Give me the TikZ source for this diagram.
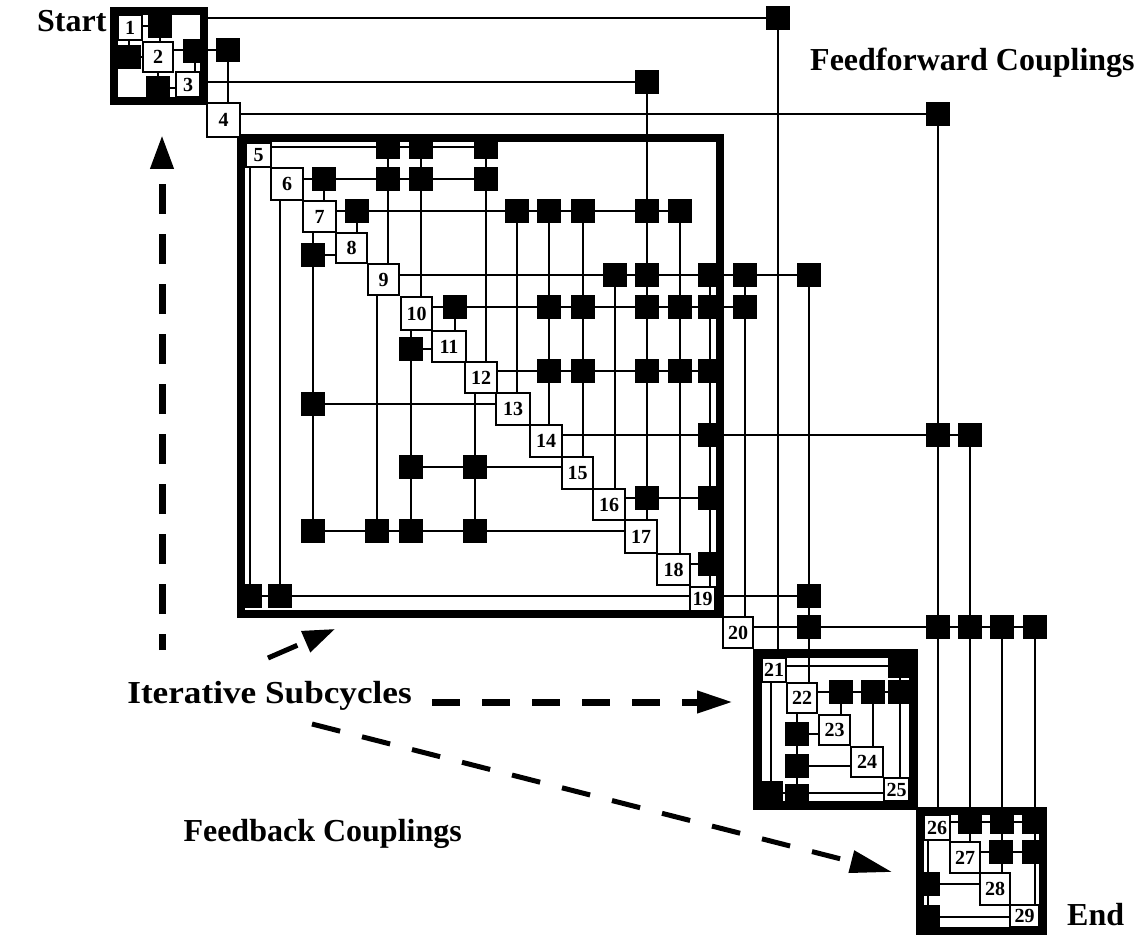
\documentclass[tikz,border=0pt]{standalone}
\usepackage{fontspec}
\setmainfont{Liberation Serif}
\usetikzlibrary{arrows.meta,backgrounds}
\newcommand\MyBox[6]{%
 \pgfmathsetmacro\myW{#4-#2}\pgfmathsetmacro\myH{#5-#3}%
 \pgfmathsetmacro\myX{(#2+#4)/2}\pgfmathsetmacro\myY{(#3+#5)/2}%
 \node[dbox, minimum width=\myW pt, minimum height=\myH pt] (b#1) at (\myX,\myY) {#6};}
\newcommand\MySq[3]{\node[sq] (s#1) at (#2,#3) {};}
\begin{document}
\begin{tikzpicture}[x=1pt,y=-1pt,
  dbox/.style={draw=black, fill=white, line width=2pt, inner sep=0pt, font=\fontsize{20}{20}\selectfont\bfseries},
  sq/.style={fill=black, inner sep=0pt, minimum size=24pt},
  ln/.style={line width=2pt},
  frm/.style={draw=black, line width=#1, inner sep=0pt},
  lbl/.style={font=\fontsize{32}{36}\selectfont\bfseries, inner sep=0pt},
  darr/.style={line width=7pt, dash pattern=on 30pt off 20pt, dash phase=14pt, -{Triangle[length=34pt,width=22pt]}},
  harr/.style={line width=7pt, dash pattern=on 28pt off 22pt, -{Triangle[length=36pt,width=21pt]}},
  garr/.style={line width=5pt, dash pattern=on 29pt off 22.6pt, -{Triangle[length=42pt,width=22pt]}},
  sarr/.style={line width=5pt, dash pattern=on 32pt off 20pt, -{Triangle[length=32pt,width=22pt]}}
]
\useasboundingbox (0,0) rectangle (1148,936);

% frames (subcycles)
\node[frm=8pt, minimum width=90pt, minimum height=90pt] (F1) at (159,56) {};
\node[frm=8pt, minimum width=479pt, minimum height=476pt] (F2) at (480.5,376) {};
\node[frm=9pt, minimum width=156pt, minimum height=152pt] (F3) at (835.5,729.5) {};
\node[frm=8pt, minimum width=123pt, minimum height=120pt] (F4) at (981.5,871) {};

% diagonal boxes
\MyBox{1}{118}{15}{142}{40}{1}
\MyBox{2}{143}{42}{173}{72}{2}
\MyBox{3}{176}{72}{200}{97}{3}
\MyBox{4}{207}{103}{240}{137}{4}
\MyBox{5}{246}{143}{271}{167}{5}
\MyBox{6}{271}{168}{303}{200}{6}
\MyBox{7}{303}{201}{336}{232}{7}
\MyBox{8}{336}{233}{367}{263}{8}
\MyBox{9}{368}{264}{399}{295}{9}
\MyBox{10}{401}{297}{432}{330}{10}
\MyBox{11}{432}{331}{466}{362}{11}
\MyBox{12}{465}{362}{497}{393}{12}
\MyBox{13}{496}{393}{530}{425}{13}
\MyBox{14}{530}{425}{562}{457}{14}
\MyBox{15}{562}{457}{593}{489}{15}
\MyBox{16}{593}{489}{625}{520}{16}
\MyBox{17}{625}{520}{657}{553}{17}
\MyBox{18}{657}{554}{690}{585}{18}
\MyBox{19}{690}{587}{715}{611}{19}
\MyBox{20}{723}{617}{753}{648}{20}
\MyBox{21}{762}{658}{786}{682}{21}
\MyBox{22}{787}{683}{817}{713}{22}
\MyBox{23}{819}{715}{850}{745}{23}
\MyBox{24}{851}{747}{883}{777}{24}
\MyBox{25}{884}{778}{909}{801}{25}
\MyBox{26}{924}{815}{950}{840}{26}
\MyBox{27}{950}{842}{980}{873}{27}
\MyBox{28}{980}{873}{1010}{905}{28}
\MyBox{29}{1010}{905}{1039}{927}{29}

% coupling marks
\MySq{1x2}{160}{26}
\MySq{2x1}{129}{57}
\MySq{2x3}{195}{51}
\MySq{3x2}{158}{88}
\MySq{2x4}{228}{50}
\MySq{1x21}{778}{18}
\MySq{3x17}{647}{82}
\MySq{4x26}{938}{114}
\MySq{5x9}{388}{147}
\MySq{5x10}{421}{147}
\MySq{5x12}{486}{147}
\MySq{6x7}{324}{179}
\MySq{6x9}{388}{179}
\MySq{6x10}{421}{179}
\MySq{6x12}{486}{179}
\MySq{7x8}{357}{211}
\MySq{7x13}{517}{211}
\MySq{7x14}{549}{211}
\MySq{7x15}{583}{211}
\MySq{7x17}{647}{211}
\MySq{7x18}{680}{211}
\MySq{8x7}{313}{255}
\MySq{9x16}{615}{275}
\MySq{9x17}{647}{275}
\MySq{9x19}{710}{275}
\MySq{9x20}{745}{275}
\MySq{9x22}{809}{275}
\MySq{10x11}{455}{307}
\MySq{10x14}{549}{307}
\MySq{10x15}{583}{307}
\MySq{10x17}{647}{307}
\MySq{10x18}{680}{307}
\MySq{10x19}{710}{307}
\MySq{10x20}{745}{307}
\MySq{11x10}{411}{349}
\MySq{12x14}{549}{371}
\MySq{12x15}{583}{371}
\MySq{12x17}{647}{371}
\MySq{12x18}{680}{371}
\MySq{12x19}{710}{371}
\MySq{13x7}{313}{404}
\MySq{14x19}{710}{435}
\MySq{14x26}{938}{435}
\MySq{14x27}{970}{435}
\MySq{15x10}{411}{467}
\MySq{15x12}{475}{467}
\MySq{16x17}{647}{498}
\MySq{16x19}{710}{498}
\MySq{17x7}{313}{531}
\MySq{17x9}{377}{531}
\MySq{17x10}{411}{531}
\MySq{17x12}{475}{531}
\MySq{18x19}{710}{564}
\MySq{19x5}{250}{596}
\MySq{19x6}{280}{596}
\MySq{19x22}{809}{596}
\MySq{20x22}{809}{627}
\MySq{20x26}{938}{627}
\MySq{20x27}{970}{627}
\MySq{20x28}{1002}{627}
\MySq{20x29}{1035}{627}
\MySq{21x25}{900}{666}
\MySq{22x23}{841}{692}
\MySq{22x24}{873}{692}
\MySq{22x25}{900}{692}
\MySq{23x22}{797}{734}
\MySq{24x22}{797}{766}
\MySq{25x22}{797}{796}
\MySq{25x21}{771}{793}
\MySq{26x27}{970}{822}
\MySq{26x28}{1002}{822}
\MySq{26x29}{1034}{822}
\MySq{27x28}{1001}{852}
\MySq{27x29}{1034}{852}
\MySq{28x26}{928}{884}
\MySq{29x26}{928}{917}

\begin{scope}[on background layer]
\fill[white] (0,0) rectangle (1148,936);
% row lines, to the right
\draw[ln] (b1.east |- s1x2) -- (s1x2);
\draw[ln] (F1.east |- s1x21) -- (s1x21);
\draw[ln] (b2.east |- s2x4) -- (s2x4);
\draw[ln] (F1.east |- s3x17) -- (s3x17);
\draw[ln] (b4.east |- s4x26) -- (s4x26);
\draw[ln] (b5.east |- s5x12) -- (s5x12);
\draw[ln] (b6.east |- s6x12) -- (s6x12);
\draw[ln] (b7.east |- s7x18) -- (s7x18);
\draw[ln] (b9.east |- s9x22) -- (s9x22);
\draw[ln] (b10.east |- s10x20) -- (s10x20);
\draw[ln] (b12.east |- s12x19) -- (s12x19);
\draw[ln] (b14.east |- s14x27) -- (s14x27);
\draw[ln] (b16.east |- s16x19) -- (s16x19);
\draw[ln] (b18.east |- s18x19) -- (s18x19);
\draw[ln] (b19.east |- s19x22) -- (s19x22);
\draw[ln] (b20.east |- s20x29) -- (s20x29);
\draw[ln] (b21.east |- s21x25) -- (s21x25);
\draw[ln] (b22.east |- s22x25) -- (s22x25);
\draw[ln] (b26.east |- s26x29) -- (s26x29);
\draw[ln] (b27.east |- s27x29) -- (s27x29);
% row lines, to the left
\draw[ln] (s2x1) -- (s2x1 -| b2.west);
\draw[ln] (s3x2) -- (s3x2 -| b3.west);
\draw[ln] (s8x7) -- (s8x7 -| b8.west);
\draw[ln] (s11x10) -- (s11x10 -| b11.west);
\draw[ln] (s13x7) -- (s13x7 -| b13.west);
\draw[ln] (s15x10) -- (s15x10 -| b15.west);
\draw[ln] (s17x7) -- (s17x7 -| b17.west);
\draw[ln] (s19x5) -- (s19x5 -| b19.west);
\draw[ln] (s23x22) -- (s23x22 -| b23.west);
\draw[ln] (s24x22) -- (s24x22 -| b24.west);
\draw[ln] (s25x21) -- (s25x21 -| b25.west);
\draw[ln] (s28x26) -- (s28x26 -| b28.west);
\draw[ln] (s29x26) -- (s29x26 -| b29.west);
% column lines, down to the element (feedforward)
\draw[ln] (s1x2) -- (s1x2 |- b2.north);
\draw[ln] (s2x3) -- (s2x3 |- b3.north);
\draw[ln] (s2x4) -- (s2x4 |- b4.north);
\draw[ln] (s6x7) -- (s6x7 |- b7.north);
\draw[ln] (s7x8) -- (s7x8 |- b8.north);
\draw[ln] (s5x9) -- (s5x9 |- b9.north);
\draw[ln] (s5x10) -- (s5x10 |- b10.north);
\draw[ln] (s10x11) -- (s10x11 |- b11.north);
\draw[ln] (s5x12) -- (s5x12 |- b12.north);
\draw[ln] (s7x13) -- (s7x13 |- b13.north);
\draw[ln] (s7x14) -- (s7x14 |- b14.north);
\draw[ln] (s7x15) -- (s7x15 |- b15.north);
\draw[ln] (s9x16) -- (s9x16 |- b16.north);
\draw[ln] (s3x17) -- (s3x17 |- b17.north);
\draw[ln] (s7x18) -- (s7x18 |- b18.north);
\draw[ln] (s9x19) -- (s9x19 |- b19.north);
\draw[ln] (s9x20) -- (s9x20 |- b20.north);
\draw[ln] (s1x21) -- (s1x21 |- b21.north);
\draw[ln] (s9x22) -- (s9x22 |- b22.north);
\draw[ln] (s22x23) -- (s22x23 |- b23.north);
\draw[ln] (s22x24) -- (s22x24 |- b24.north);
\draw[ln] (s21x25) -- (s21x25 |- b25.north);
\draw[ln] (s4x26) -- (s4x26 |- b26.north);
\draw[ln] (s14x27) -- (s14x27 |- b27.north);
\draw[ln] (s20x28) -- (s20x28 |- b28.north);
\draw[ln] (s20x29) -- (s20x29 |- b29.north);
% column lines, up to the element (feedback)
\draw[ln] (s2x1) -- (s2x1 |- b1.south);
\draw[ln] (s3x2) -- (s3x2 |- b2.south);
\draw[ln] (s19x5) -- (s19x5 |- b5.south);
\draw[ln] (s19x6) -- (s19x6 |- b6.south);
\draw[ln] (s17x7) -- (s17x7 |- b7.south);
\draw[ln] (s17x9) -- (s17x9 |- b9.south);
\draw[ln] (s17x10) -- (s17x10 |- b10.south);
\draw[ln] (s17x12) -- (s17x12 |- b12.south);
\draw[ln] (s25x21) -- (s25x21 |- b21.south);
\draw[ln] (s25x22) -- (s25x22 |- b22.south);
\draw[ln] (s29x26) -- (s29x26 |- b26.south);
\end{scope}

% labels
\node[lbl, anchor=base west] (tStart) at (37,32) {Start};
\node[lbl, anchor=base west] (tFF) at (810,71) {Feedforward Couplings};
\node[lbl, anchor=base east, xscale=1.1] (tIS) at (412,703) {Iterative Subcycles};
\node[lbl, anchor=base east] (tFB) at (462,841) {Feedback Couplings};
\node[lbl, anchor=base west] (tEnd) at (1067,925) {End};

% dashed pointer arrows
\coordinate (vA) at (162,650);
\coordinate (vB) at (162,135);
\coordinate (hA) at (432,702);
\coordinate (hB) at (733,702);
\coordinate (gA) at (312,724);
\coordinate (gB) at (892,872);
\coordinate (kA) at (268,658);
\coordinate (kB) at (335,629);
\draw[darr] (vA) -- (vB);
\draw[harr] (hA) -- (hB);
\draw[garr] (gA) -- (gB);
\draw[sarr] (kA) -- (kB);
\end{tikzpicture}
\end{document}
